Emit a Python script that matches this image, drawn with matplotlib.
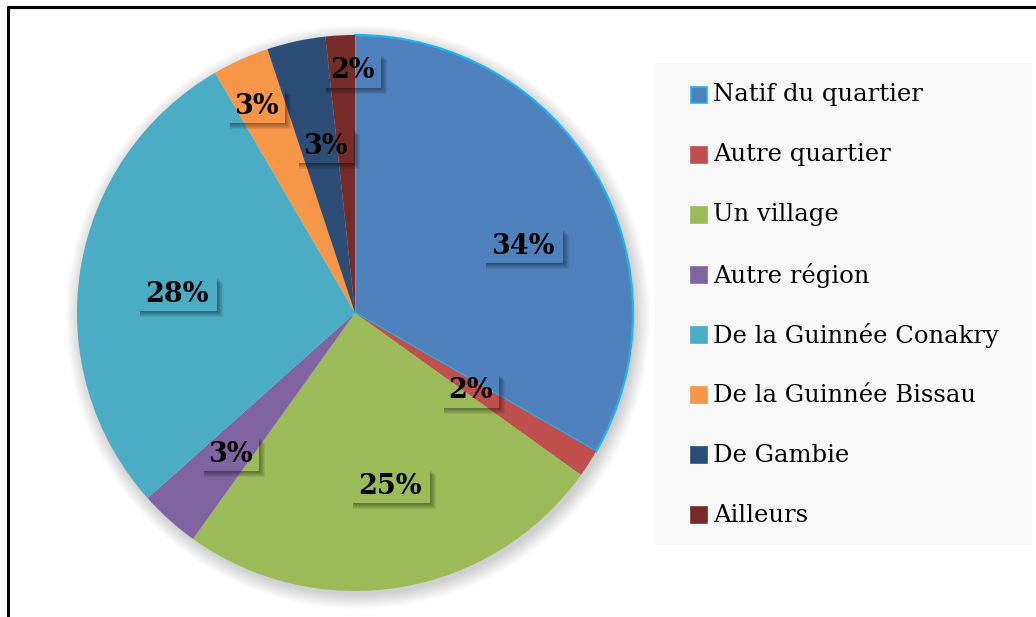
import matplotlib
matplotlib.use("Agg")
import matplotlib.pyplot as plt
from matplotlib.patches import Rectangle, Circle
import numpy as np

categories = ["Natif du quartier", "Autre quartier", "Un village", "Autre région",
              "De la Guinnée Conakry", "De la Guinnée Bissau", "De Gambie", "Ailleurs"]
values = [33.3, 1.6, 25.0, 3.5, 28.2, 3.3, 3.4, 1.7]
labels = ["34%", "2%", "25%", "3%", "28%", "3%", "3%", "2%"]
colors = ["#4F81BD", "#C0504D", "#9BBB59", "#8064A2", "#4BACC6", "#F79646", "#2C4D75", "#772C2A"]

W, H = 1036, 617
fig = plt.figure(figsize=(W / 100, H / 100), dpi=100)
ax = fig.add_axes([0, 0, 1, 1])

def py(y):
    return H - y

cx, cy, r = 355, py(313), 278

wedges, _ = ax.pie(values, colors=colors, startangle=90, counterclock=False,
                   center=(cx, cy), radius=r, frame=False,
                   wedgeprops=dict(linewidth=0))
for w in wedges:
    w.set_zorder(2)
wedges[0].set_edgecolor("#1FB4F0")
wedges[0].set_linewidth(1.6)

ax.set_xlim(0, W)
ax.set_ylim(0, H)
ax.set_aspect("equal")
ax.axis("off")

# outer frame (top and left lines)
ax.plot([7, W + 5], [py(6.5), py(6.5)], color="black", lw=2.2, solid_capstyle="butt")
ax.plot([7.5, 7.5], [py(5.5), -5], color="black", lw=2.2, solid_capstyle="butt")

# soft shadow of the pie
for k in range(12):
    ax.add_patch(Circle((cx + 3, cy - 4), r + 14 - k * 1.3, color="black",
                        alpha=0.016, lw=0, zorder=1))

# label positions (pixel space); boxes are transparent with a soft outer shadow
label_pos = [(523, 245), (470, 390), (390, 485), (230, 453),
             (177, 293), (256, 105), (325, 145), (352, 70)]
box_w = [80, 58, 80, 58, 80, 58, 58, 58]
box_h = 36
for (lx, ly), lab, col, bw in zip(label_pos, labels, colors, box_w):
    x0 = lx - bw / 2
    y0 = py(ly) - box_h / 2
    for k in range(1, 7):
        a = 0.07
        # right strip
        ax.add_patch(Rectangle((x0 + bw, y0 - k), k, box_h - 2, color="black",
                               alpha=a, lw=0, zorder=3))
        # bottom strip
        ax.add_patch(Rectangle((x0 + 3, y0 - k), bw - 3, k, color="black",
                               alpha=a, lw=0, zorder=3))
    ax.text(lx, py(ly) - 1, lab, ha="center", va="center", fontsize=19.5,
            fontweight="bold", family="DejaVu Serif", color="black", zorder=5)

# legend
ax.add_patch(Rectangle((655, py(545)), 377, 482, facecolor="#F8F8F8", lw=0, zorder=1))
for i, (cat, col) in enumerate(zip(categories, colors)):
    yc = py(95 + 60 * i)
    ec = "#1FB4F0" if i == 0 else col
    ax.add_patch(Rectangle((691, yc - 8), 16, 16, facecolor=col, edgecolor=ec,
                           lw=1.2, zorder=3))
    ax.text(713, yc, cat, ha="left", va="center", fontsize=17.5,
            family="DejaVu Serif", color="black", zorder=3)

fig.savefig("out.png", dpi=100)
